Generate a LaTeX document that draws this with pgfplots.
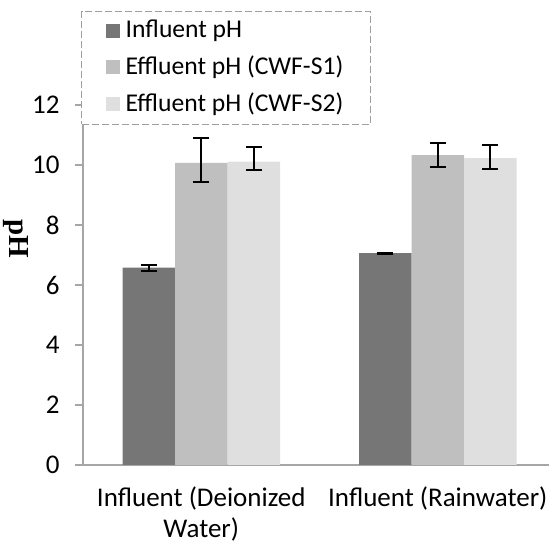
\documentclass[border=0pt]{standalone}
\usepackage{pgfplots}
\pgfplotsset{compat=1.18}
\usepackage{fontspec}
\setmainfont{Carlito}
\newfontfamily\tnr{Liberation Serif}
\definecolor{cDark}{HTML}{767676}
\definecolor{cMid}{HTML}{BFBFBF}
\definecolor{cLight}{HTML}{DFDFDF}
\definecolor{cAxis}{HTML}{A6A6A6}
\begin{document}
\fontsize{13.5}{16}\selectfont
\begin{tikzpicture}
\useasboundingbox (-41.5pt,-39.5pt) rectangle (234pt,232.5pt);
\begin{axis}[
  at={(0pt,0pt)}, anchor=south west,
  scale only axis,
  width=233pt, height=180pt,
  xmin=-0.5, xmax=1.47,
  ymin=0, ymax=12,
  ytick={0,2,...,12},
  axis x line=bottom, axis y line=left,
  axis line style={draw=cAxis, line width=0.8pt, -},
  every tick/.style={draw=cAxis, line width=0.8pt},
  ytick style={draw=cAxis},
  tick align=outside,
  major tick length=4pt,
  xtick={0,1},
  xtick style={draw=none},
  xticklabels={{Influent (Deionized\\Water)},{Influent (Rainwater)}},
  xticklabel style={align=center, font=\fontsize{13.5}{15.5}\selectfont, yshift=-2pt},
  extra x ticks={-0.5,0.5},
  extra x tick labels={},
  extra x tick style={tick style={draw=cAxis, line width=0.8pt}, major tick length=4pt},
  yticklabel style={font=\fontsize{13.5}{16}\selectfont, xshift=-3pt},
  /pgf/number format/assume math mode=true,
  ylabel={{\tnr\bfseries pH}},
  ylabel style={rotate=180, at={(axis description cs:-0.145,0.628)}, anchor=center, font=\fontsize{14.5}{16}\selectfont},
  ybar=0pt,
  bar width=0.222,
  legend style={at={(axis description cs:-0.004,1.262)}, anchor=north west,
    draw=gray!75, dash pattern=on 3.5pt off 1.5pt, line width=0.6pt, fill=white,
    inner xsep=12pt, inner ysep=3pt, row sep=4pt,
    font=\fontsize{12.8}{15}\selectfont,
    nodes={inner sep=1.5pt, solid}},
  legend cell align=left,
  legend image code/.code={\fill[#1, solid] (0pt,-3.5pt) rectangle (7pt,3.5pt);},
  error bars/y dir=both,
  error bars/y explicit,
  error bars/error bar style={black, line width=1pt, solid},
  error bars/error mark options={rotate=90, mark size=4pt, line width=1pt, black},
  clip=false,
]
\addplot+[bar shift=-0.222, fill=cDark, draw=none]
  coordinates {(0,6.58) +- (0,0.10) (1,7.06) +- (0,0.02)};
\addplot+[bar shift=0, fill=cMid, draw=none]
  coordinates {(0,10.07) += (0,0.83) -= (0,0.63) (1,10.33) += (0,0.40) -= (0,0.39)};
\addplot+[bar shift=0.222, fill=cLight, draw=none]
  coordinates {(0,10.11) += (0,0.48) -= (0,0.28) (1,10.23) += (0,0.44) -= (0,0.35)};
\legend{\hspace{1.5pt}Influent pH, \hspace{1.5pt}Effluent pH (CWF-S1), \hspace{1.5pt}Effluent pH (CWF-S2)}
\end{axis}
\end{tikzpicture}
\end{document}
